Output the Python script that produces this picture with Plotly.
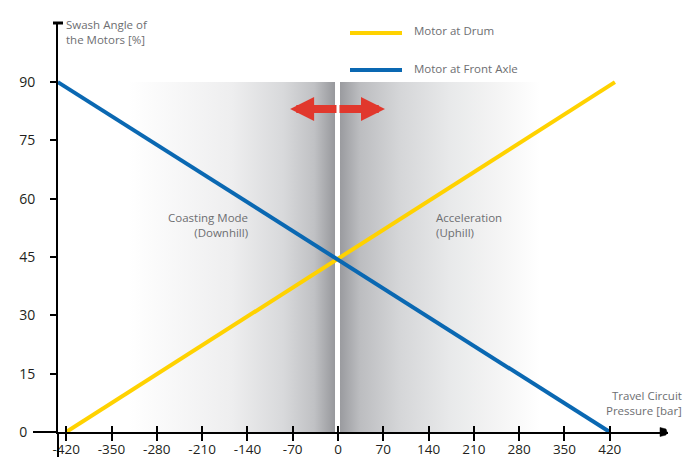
import plotly.graph_objects as go

# ---- data ----
pressure_ticks = [-420, -350, -280, -210, -140, -70, 0, 70, 140, 210, 280, 350, 420]
pressure_labels = ["-420", "-350", "-280", "-210", "-140", "-70", "0", "70", "140", "210", "280", "350", "420"]
angle_ticks = [0, 15, 30, 45, 60, 75, 90]
angle_labels = ["0\u2007", "15", "30", "45", "60", "75", "90"]

drum_x = [-420, 428]
drum_y = [0, 90]
front_x = [-433, 420]
front_y = [90, 0]

coast_zone_x = [-324, -4.6]   # downhill shading
accel_zone_x = [3.1, 312]     # uphill shading
zone_y = [0, 90]

arrow_y = 83.1
arrow_left_tip = -74
arrow_right_tip = 72.6
arrow_center = 0

X_RANGE = [-432.7, 510]
Y_RANGE = [0, 105.2]

GRAY_TXT = "#6d6e71"
YELLOW = "#ffd200"
BLUE = "#0a68b2"
RED = "#e1382d"
FONT = "Open Sans"

fig = go.Figure()

# shaded zones
def zone(xs, scale):
    return go.Scatter(
        x=[xs[0], xs[1], xs[1], xs[0], xs[0]],
        y=[zone_y[0], zone_y[0], zone_y[1], zone_y[1], zone_y[0]],
        mode="lines", line=dict(width=0), fill="toself",
        fillgradient=dict(type="horizontal", colorscale=scale),
        hoverinfo="skip", showlegend=False)

fig.add_trace(zone(coast_zone_x, [[0, "#ffffff"], [0.5, "#eeeeef"], [0.75, "#d8d9db"],
                                  [0.9, "#c0c1c4"], [1, "#97989c"]]))
fig.add_trace(zone(accel_zone_x, [[0, "#9a9b9f"], [0.1, "#bcbdc0"], [0.3, "#d5d6d8"],
                                  [0.55, "#e8e9ea"], [0.8, "#f5f5f5"], [1, "#ffffff"]]))

fig.add_trace(go.Scatter(x=drum_x, y=drum_y, mode="lines", name="Motor at Drum",
                         line=dict(color=YELLOW, width=4), showlegend=False))
fig.add_trace(go.Scatter(x=front_x, y=front_y, mode="lines", name="Motor at Front Axle",
                         line=dict(color=BLUE, width=4), showlegend=False))

# x-axis ticks crossing the axis line: outer axis + inner overlay axis
fig.update_layout(
    xaxis=dict(range=X_RANGE, tickmode="array", tickvals=pressure_ticks, ticktext=pressure_labels,
               ticks="outside", ticklen=7, tickwidth=1.5, tickcolor="black", automargin=False,
               ticklabelstandoff=-3,
               showline=True, linecolor="black", linewidth=2, showgrid=False, zeroline=False,
               tickfont=dict(family=FONT, size=13.5, color="#231f20")),
    xaxis2=dict(range=X_RANGE, overlaying="x", anchor="y", side="bottom", automargin=False,
                tickmode="array", tickvals=pressure_ticks, ticktext=[""] * len(pressure_ticks),
                ticks="inside", ticklen=6, tickwidth=1.5, tickcolor="black",
                showline=False, showgrid=False, zeroline=False),
    yaxis=dict(range=Y_RANGE, tickmode="array", tickvals=angle_ticks, ticktext=angle_labels,
               automargin=False,
               ticks="outside", ticklen=6, tickwidth=1.5, tickcolor="black",
               showline=True, linecolor="black", linewidth=2, showgrid=False, zeroline=False,
               ticklabelstandoff=12,
               tickfont=dict(family=FONT, size=14, color="#231f20")),
)
# dummy trace to activate xaxis2
fig.add_trace(go.Scatter(x=[X_RANGE[0]], y=[Y_RANGE[0]], xaxis="x2", mode="markers",
                         marker=dict(opacity=0), hoverinfo="skip", showlegend=False))

L, R, T, B = 58, 19, 23, 25
W, H = 687, 457
PW, PH = W - L - R, H - T - B

def px(xp):
    return (xp - L) / PW

def py(yp):
    return (H - B - yp) / PH

shapes = [
    # x-axis extension left
    dict(type="line", xref="paper", yref="paper", x0=px(33), x1=0, y0=0, y1=0,
         line=dict(color="black", width=2)),
    # y-axis extension below
    dict(type="line", xref="paper", yref="paper", x0=0, x1=0, y0=py(457), y1=0,
         line=dict(color="black", width=2)),
    # y-axis top cap
    dict(type="line", xref="paper", yref="paper", x0=px(53), x1=px(63), y0=1, y1=1,
         line=dict(color="black", width=3)),
    # x-axis arrow end
    dict(type="path", xref="paper", yref="paper",
         path=f"M{px(660)},{py(427.5)} L{px(666)},{py(429)} L{px(667)},{py(432)} L{px(666)},{py(435)} L{px(660)},{py(436.5)} Z",
         fillcolor="black", line=dict(color="black", width=0.5)),
    # legend samples
    dict(type="line", xref="paper", yref="paper", x0=px(350), x1=px(402), y0=py(33), y1=py(33),
         line=dict(color=YELLOW, width=4)),
    dict(type="line", xref="paper", yref="paper", x0=px(350), x1=px(402), y0=py(70), y1=py(70),
         line=dict(color=BLUE, width=4)),
]

annotations = [
    dict(xref="paper", yref="paper", x=px(412), y=py(31), text="Motor at Drum", showarrow=False,
         xanchor="left", yanchor="middle", font=dict(family=FONT, size=11.5, color=GRAY_TXT)),
    dict(xref="paper", yref="paper", x=px(412), y=py(68), text="Motor at Front Axle", showarrow=False,
         xanchor="left", yanchor="middle", font=dict(family=FONT, size=11.5, color=GRAY_TXT)),
    dict(xref="paper", yref="paper", x=px(64), y=py(32), text="Swash Angle of<br>the Motors [%]",
         showarrow=False, xanchor="left", yanchor="middle", align="left",
         font=dict(family=FONT, size=11.5, color=GRAY_TXT)),
    dict(xref="paper", yref="paper", x=px(684), y=py(403), text="Travel Circuit<br>Pressure [bar]",
         showarrow=False, xanchor="right", yanchor="middle", align="right",
         font=dict(family=FONT, size=11.5, color=GRAY_TXT)),
    dict(x=-136, y=53.2, text="Coasting Mode<br>(Downhill)", showarrow=False, xanchor="right",
         yanchor="middle", align="right", font=dict(family=FONT, size=11.5, color=GRAY_TXT)),
    dict(x=149, y=53.2, text="Acceleration<br>(Uphill)", showarrow=False, xanchor="left",
         yanchor="middle", align="left", font=dict(family=FONT, size=11.5, color=GRAY_TXT)),
    # red double arrow
    dict(x=arrow_left_tip, y=arrow_y, ax=arrow_center, ay=arrow_y, axref="x", ayref="y",
         text="", showarrow=True, arrowhead=2, arrowsize=0.6, arrowwidth=8, arrowcolor=RED),
    dict(x=arrow_right_tip, y=arrow_y, ax=arrow_center, ay=arrow_y, axref="x", ayref="y",
         text="", showarrow=True, arrowhead=2, arrowsize=0.6, arrowwidth=8, arrowcolor=RED),
]

fig.update_layout(
    width=W, height=H, margin=dict(l=L, r=R, t=T, b=B),
    paper_bgcolor="white", plot_bgcolor="white",
    shapes=shapes, annotations=annotations, showlegend=False,
    font=dict(family=FONT),
)

fig.write_html("out.html", config={"displayModeBar": False},
               post_script="document.body.style.margin='0';document.body.style.overflow='hidden';")
